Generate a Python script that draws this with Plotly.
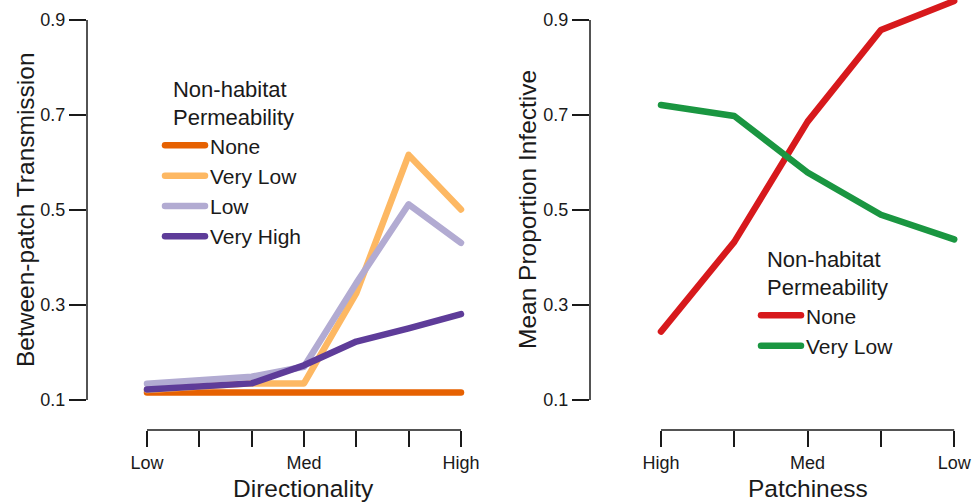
import plotly.graph_objects as go

# ---------------- data ----------------
dir_x = [1, 2, 3, 4, 5, 6, 7]
dir_ticktext = ["Low", "", "", "Med", "", "", "High"]
perm_none = [0.116, 0.116, 0.116, 0.116, 0.116, 0.116, 0.116]
perm_very_low = [0.121, 0.128, 0.135, 0.135, 0.325, 0.616, 0.501]
perm_low = [0.134, 0.141, 0.149, 0.170, 0.346, 0.512, 0.431]
perm_very_high = [0.122, 0.128, 0.135, 0.173, 0.223, 0.251, 0.281]

patch_x = [1, 2, 3, 4, 5]
patch_ticktext = ["High", "", "Med", "", "Low"]
inf_none = [0.244, 0.433, 0.686, 0.879, 0.940]
inf_very_low = [0.721, 0.698, 0.579, 0.490, 0.438]

y_ticks = [0.1, 0.3, 0.5, 0.7, 0.9]
y_ticktext = ["0.1", "0.3", "0.5", "0.7", "0.9"]

# ---------------- layout geometry (pixels) ----------------
W, H = 972, 504
FONT = "Liberation Sans, Arial, sans-serif"
INK = "#1a1a1a"

y_px_per_unit = 380 / 0.8
y_bottom_px = 430
y_range = [0.1 - (y_bottom_px - 400) / y_px_per_unit, 0.1 + 400 / y_px_per_unit]
y_domain = [(H - y_bottom_px) / H, 1.0]

# left panel x scale
lx0, lstep = 147, 52.33
l_left, l_right = 87, 478
lx_range = [1 - (lx0 - l_left) / lstep, 1 + (l_right - lx0) / lstep]
# right panel x scale
rx0, rstep = 661, 73.3
r_left, r_right = 590, 972
rx_range = [1 - (rx0 - r_left) / rstep, 1 + (r_right - rx0) / rstep]

fig = go.Figure()

LW = 6.5
left_series = [
    ("None", perm_none, "#E66101"),
    ("Very Low", perm_very_low, "#FDB863"),
    ("Low", perm_low, "#B2ABD2"),
    ("Very High", perm_very_high, "#5E3C99"),
]
for name, vals, col in left_series:
    fig.add_trace(go.Scatter(x=dir_x, y=vals, mode="lines", name=name,
                             line=dict(color=col, width=LW),
                             xaxis="x", yaxis="y", legend="legend"))

right_series = [
    ("None", inf_none, "#D7191C"),
    ("Very Low", inf_very_low, "#1A9641"),
]
for name, vals, col in right_series:
    fig.add_trace(go.Scatter(x=patch_x, y=vals, mode="lines", name=name,
                             line=dict(color=col, width=LW),
                             xaxis="x2", yaxis="y2", legend="legend2"))

tick_font = dict(family=FONT, size=18, color=INK)
common_x = dict(showgrid=False, zeroline=False, showline=False, ticks="outside",
                ticklen=16, tickwidth=1.5, tickcolor=INK, tickfont=tick_font,
                fixedrange=True)
common_y = dict(showgrid=False, zeroline=False, showline=False, ticks="outside",
                ticklen=17, tickwidth=1.5, tickcolor=INK, tickfont=tick_font,
                tickvals=y_ticks, ticktext=y_ticktext, range=y_range,
                domain=y_domain, fixedrange=True)

legend_common = dict(
    font=dict(family=FONT, size=21, color=INK),
    bgcolor="rgba(0,0,0,0)", borderwidth=0, itemwidth=40,
    tracegroupgap=0, xanchor="left", yanchor="top",
)
legend_title_font = dict(family=FONT, size=22, color=INK)

fig.update_layout(
    width=W, height=H,
    margin=dict(l=0, r=0, t=0, b=0),
    paper_bgcolor="white", plot_bgcolor="white",
    font=dict(family=FONT, color=INK),
    xaxis=dict(common_x, domain=[l_left / W, l_right / W], range=lx_range,
               tickvals=dir_x, ticktext=dir_ticktext, anchor="y"),
    yaxis=dict(common_y, anchor="x"),
    xaxis2=dict(common_x, domain=[r_left / W, r_right / W], range=rx_range,
                tickvals=patch_x, ticktext=patch_ticktext, anchor="y2"),
    yaxis2=dict(common_y, anchor="x2"),
    legend=dict(legend_common, x=160 / W, y=1 - 68 / H,
                title=dict(text="Non-habitat<br>Permeability", side="top center",
                           font=legend_title_font)),
    legend2=dict(legend_common, x=756 / W, y=1 - 238 / H,
                 title=dict(text="Non-habitat<br>Permeability", side="top center",
                            font=legend_title_font)),
    showlegend=True,
)

# R-style axis lines spanning only the tick range
for xr, yr, xd, yd in (("x", "y", "x domain", "y domain"), ("x2", "y2", "x2 domain", "y2 domain")):
    xs = dir_x if xr == "x" else patch_x
    fig.add_shape(type="line", xref=xd, yref=yr, x0=0, x1=0,
                  y0=y_ticks[0], y1=y_ticks[-1], line=dict(color=INK, width=1.5))
    fig.add_shape(type="line", xref=xr, yref=yd, x0=xs[0], x1=xs[-1],
                  y0=0, y1=0, line=dict(color=INK, width=1.5))

title_font = dict(family=FONT, size=24.5, color=INK)
fig.add_annotation(text="Directionality", xref="x", yref="paper",
                   x=(dir_x[0] + dir_x[-1]) / 2, y=(H - 488) / H,
                   xanchor="center", yanchor="middle", showarrow=False, font=title_font)
fig.add_annotation(text="Patchiness", xref="x2", yref="paper",
                   x=(patch_x[0] + patch_x[-1]) / 2, y=(H - 488) / H,
                   xanchor="center", yanchor="middle", showarrow=False, font=title_font)
fig.add_annotation(text="Between-patch Transmission", xref="paper", yref="y",
                   x=25 / W, y=0.5, textangle=-90, xanchor="center", yanchor="middle",
                   showarrow=False, font=title_font)
fig.add_annotation(text="Mean Proportion Infective", xref="paper", yref="y2",
                   x=527 / W, y=0.5, textangle=-90, xanchor="center", yanchor="middle",
                   showarrow=False, font=title_font)

post = """
document.body.style.margin='0';
document.body.style.padding='0';
document.querySelectorAll('path.js-line').forEach(function(p){
  p.style.strokeLinejoin='round'; p.style.strokeLinecap='round';
});
"""
fig.write_html("out.html", post_script=post, config={"displayModeBar": False})
